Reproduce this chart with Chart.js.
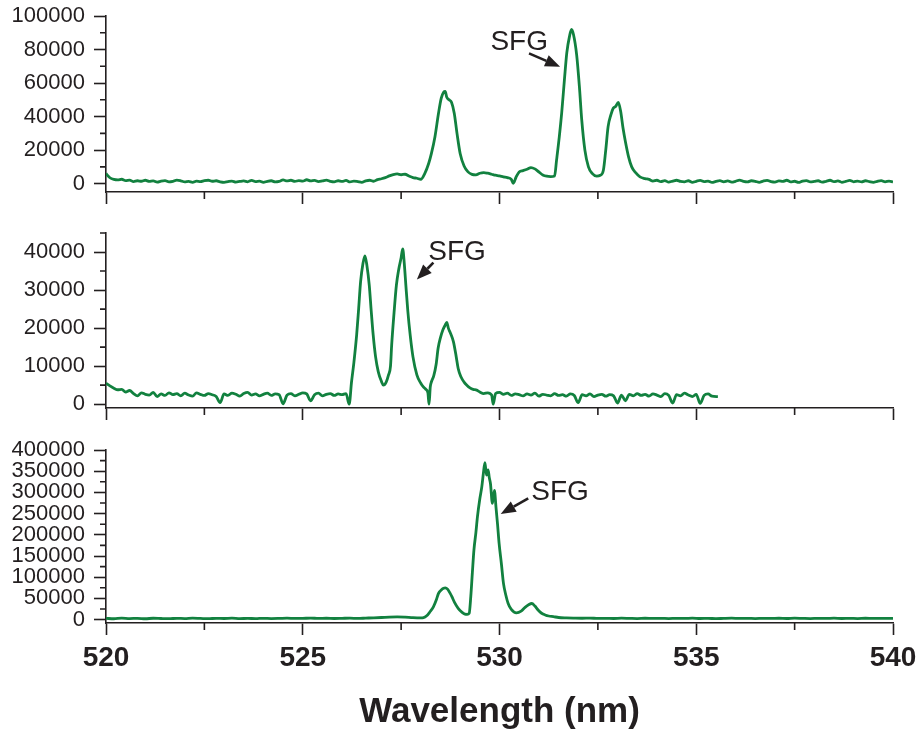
<!DOCTYPE html>
<html>
<head>
<meta charset="utf-8">
<script src="https://cdn.jsdelivr.net/npm/chart.js@4.4.1/dist/chart.umd.min.js"></script>
<style>
    body { margin: 0; background: #fff; }
    #wrap { position: relative; width: 918px; height: 733px; }
    #wrap canvas { position: absolute; left: 0; top: 0; }
</style>
</head>
<body>
<div id="wrap">
    <canvas id="topChart" width="918" height="733"></canvas>
    <canvas id="midChart" width="918" height="733"></canvas>
    <canvas id="botChart" width="918" height="733"></canvas>
</div>
<script>
// top spectrum (counts vs wavelength in nm)
const topWl = [
    520.0, 520.1, 520.2, 520.3, 520.4, 520.5, 520.6, 520.7, 520.8, 520.9,
    521.0, 521.1, 521.2, 521.3, 521.4, 521.5, 521.6, 521.7, 521.8, 521.9,
    522.0, 522.1, 522.2, 522.3, 522.4, 522.5, 522.6, 522.7, 522.8, 522.9,
    523.0, 523.1, 523.2, 523.3, 523.4, 523.5, 523.6, 523.7, 523.8, 523.9,
    524.0, 524.1, 524.2, 524.3, 524.4, 524.5, 524.6, 524.7, 524.8, 524.9,
    525.0, 525.1, 525.2, 525.3, 525.4, 525.5, 525.6, 525.7, 525.8, 525.9,
    526.0, 526.1, 526.2, 526.3, 526.4, 526.5, 526.6, 526.7, 526.8, 526.9,
    527.0, 527.1, 527.2, 527.3, 527.4, 527.5, 527.6, 527.7, 527.8, 527.9,
    528.0, 528.1, 528.2, 528.27, 528.36, 528.45, 528.52, 528.58, 528.62, 528.66,
    528.72, 528.78, 528.85, 528.92, 529.0, 529.1, 529.2, 529.3, 529.4, 529.5,
    529.6, 529.7, 529.8, 529.9, 530.0, 530.1, 530.2, 530.3, 530.35, 530.42,
    530.5, 530.6, 530.7, 530.8, 530.9, 531.0, 531.1, 531.2, 531.3, 531.4,
    531.45, 531.52, 531.58, 531.65, 531.71, 531.78, 531.83, 531.88, 531.96, 532.03,
    532.09, 532.17, 532.26, 532.36, 532.47, 532.56, 532.64, 532.7, 532.76, 532.83,
    532.89, 532.95, 533.02, 533.08, 533.14, 533.2, 533.28, 533.36, 533.46, 533.57,
    533.7, 533.8, 533.9, 534.0, 534.1, 534.2, 534.3, 534.4, 534.5, 534.6,
    534.7, 534.8, 534.9, 535.0, 535.1, 535.2, 535.3, 535.4, 535.5, 535.6,
    535.7, 535.8, 535.9, 536.0, 536.1, 536.2, 536.3, 536.4, 536.5, 536.6,
    536.7, 536.8, 536.9, 537.0, 537.1, 537.2, 537.3, 537.4, 537.5, 537.6,
    537.7, 537.8, 537.9, 538.0, 538.1, 538.2, 538.3, 538.4, 538.5, 538.6,
    538.7, 538.8, 538.9, 539.0, 539.1, 539.2, 539.3, 539.4, 539.5, 539.6,
    539.7, 539.8, 539.9, 540.0
]
const topCounts = [
    6000, 3500, 2500, 2200, 2600, 1800, 2100, 1200, 1700, 1400,
    2000, 1300, 1600, 900, 1500, 1800, 1100, 1400, 2100, 1700,
    1000, 1300, 800, 1500, 1200, 1800, 2000, 1400, 1700, 1100,
    800, 1200, 1500, 900, 1300, 1600, 1100, 1900, 1200, 1500,
    800, 1400, 1700, 1000, 1300, 2200, 1600, 2000, 1300, 1800,
    1500, 2300, 1600, 1900, 1200, 1600, 2100, 1400, 1100, 1700,
    1300, 1900, 1000, 1500, 1200, 800, 1600, 2000, 1400, 2400,
    2900, 3600, 4600, 5400, 5800, 5300, 5600, 4500, 3600, 3200,
    2600, 6000, 12000, 18000, 28000, 42000, 51000, 54500, 55000, 51500,
    50000, 48500, 42000, 30000, 18000, 10500, 7000, 5500, 5200, 6200,
    6600, 6200, 5600, 5000, 4600, 4000, 3600, 2600, 200, 3800,
    7000, 7800, 8600, 9600, 8800, 7000, 5200, 4400, 4200, 4600,
    14000, 28000, 42000, 62000, 78000, 88000, 92000, 89000, 77000, 58000,
    38000, 20000, 10000, 6000, 4500, 5000, 8000, 20000, 34000, 41000,
    45000, 46000, 48500, 43000, 33000, 25000, 16000, 10000, 6500, 4000,
    3000, 2500, 1500, 2000, 1200, 1800, 900, 1500, 2000, 1300,
    1100, 1700, 800, 1400, 1900, 1200, 1500, 700, 1300, 1800,
    1100, 1600, 900, 1400, 2100, 1300, 1000, 1700, 1400, 800,
    1500, 1900, 1200, 900, 1600, 1300, 2000, 1100, 1400, 700,
    1500, 1800, 1000, 1300, 1700, 900, 1400, 2000, 1200, 1600,
    800, 1300, 1900, 1100, 1500, 1000, 1700, 1200, 800, 1400,
    1800, 1100, 1500, 1000
]

// middle spectrum
const midWl = [
    520.0, 520.1, 520.2, 520.3, 520.4, 520.5, 520.6, 520.7, 520.8, 520.9,
    521.0, 521.1, 521.2, 521.3, 521.4, 521.5, 521.6, 521.7, 521.8, 521.9,
    522.0, 522.1, 522.2, 522.3, 522.4, 522.5, 522.6, 522.7, 522.8, 522.9,
    523.0, 523.1, 523.2, 523.3, 523.4, 523.5, 523.6, 523.7, 523.8, 523.9,
    524.0, 524.1, 524.2, 524.3, 524.4, 524.5, 524.6, 524.7, 524.8, 524.9,
    525.0, 525.1, 525.2, 525.3, 525.4, 525.5, 525.6, 525.7, 525.8, 525.9,
    526.0, 526.1, 526.18, 526.24, 526.3, 526.37, 526.42, 526.47, 526.53, 526.58,
    526.63, 526.69, 526.74, 526.79, 526.85, 526.92, 527.0, 527.05, 527.12, 527.18,
    527.23, 527.26, 527.32, 527.38, 527.44, 527.5, 527.54, 527.58, 527.62, 527.67,
    527.73, 527.8, 527.9, 528.0, 528.06, 528.12, 528.18, 528.21, 528.24, 528.27,
    528.33, 528.39, 528.44, 528.5, 528.56, 528.62, 528.66, 528.7, 528.76, 528.83,
    528.9, 528.95, 529.02, 529.1, 529.17, 529.25, 529.33, 529.42, 529.5, 529.6,
    529.7, 529.8, 529.84, 529.9, 530.0, 530.1, 530.2, 530.3, 530.4, 530.5,
    530.6, 530.7, 530.8, 530.9, 531.0, 531.1, 531.2, 531.3, 531.4, 531.5,
    531.6, 531.7, 531.8, 531.9, 532.0, 532.1, 532.2, 532.3, 532.4, 532.5,
    532.6, 532.7, 532.8, 532.9, 533.0, 533.1, 533.2, 533.3, 533.4, 533.5,
    533.6, 533.7, 533.8, 533.9, 534.0, 534.1, 534.2, 534.3, 534.4, 534.5,
    534.6, 534.7, 534.8, 534.9, 535.0, 535.1, 535.2, 535.3, 535.4, 535.55
]
const midCounts = [
    5500, 4800, 4200, 3800, 3900, 3200, 3600, 2800, 2200, 3000,
    2600, 2400, 3100, 2000, 2700, 2300, 3000, 2500, 2800, 2200,
    2900, 2400, 2100, 3000, 2600, 2300, 2800, 2500, 2000, 400,
    2700, 2300, 2900, 2600, 2100, 2800, 3100, 2400, 2700, 2200,
    2600, 2900, 2300, 2700, 2500, 100, 2400, 2800, 2200, 2600,
    3000, 2700, 900, 2500, 2900, 2200, 2600, 2800, 2300, 2700,
    2500, 2800, 0, 5900, 11000, 18200, 25000, 32200, 37000, 39000,
    36500, 31300, 24500, 18200, 12500, 8500, 6000, 5000, 5800, 7700,
    10000, 15600, 24000, 31300, 35500, 38500, 40800, 37000, 31300, 24500,
    18200, 12500, 7700, 5500, 4600, 4000, 3000, 0, 4500, 5900,
    7500, 10500, 14700, 17500, 19500, 20800, 21500, 20000, 18500, 16400,
    12500, 9400, 7200, 5800, 5000, 4300, 3900, 3700, 3200, 2800,
    3000, 2400, 0, 2800, 3100, 2600, 2900, 2300, 2700, 2500,
    2200, 2700, 2400, 2900, 2100, 2600, 2400, 2200, 2800, 2300,
    2500, 2100, 2700, 2300, 400, 2500, 2200, 2700, 2000, 2400,
    2600, 2100, 2500, 2200, 300, 2400, 900, 2600, 2200, 2800,
    2300, 2600, 2100, 2700, 2400, 2000, 2800, 2300, 300, 2500,
    2200, 2900, 2400, 2000, 2600, 200, 2300, 2700, 2100, 2000
]

// bottom spectrum
const botWl = [
    520.0, 520.2, 520.4, 520.6, 520.8, 521.0, 521.2, 521.4, 521.6, 521.8,
    522.0, 522.2, 522.4, 522.6, 522.8, 523.0, 523.2, 523.4, 523.6, 523.8,
    524.0, 524.2, 524.4, 524.6, 524.8, 525.0, 525.2, 525.4, 525.6, 525.8,
    526.0, 526.2, 526.4, 526.6, 526.8, 527.0, 527.2, 527.4, 527.6, 527.8,
    528.0, 528.07, 528.15, 528.23, 528.32, 528.4, 528.45, 528.52, 528.58, 528.62,
    528.68, 528.74, 528.79, 528.86, 528.95, 529.05, 529.12, 529.18, 529.23, 529.27,
    529.31, 529.35, 529.4, 529.44, 529.5, 529.55, 529.59, 529.63, 529.67, 529.71,
    529.74, 529.77, 529.82, 529.87, 529.91, 529.95, 529.99, 530.05, 530.1, 530.16,
    530.22, 530.3, 530.43, 530.55, 530.65, 530.74, 530.82, 530.9, 530.98, 531.07,
    531.16, 531.25, 531.37, 531.5, 531.7, 531.9, 532.1, 532.3, 532.5, 532.7,
    532.9, 533.1, 533.3, 533.5, 533.7, 533.9, 534.1, 534.3, 534.5, 534.7,
    534.9, 535.1, 535.3, 535.5, 535.7, 535.9, 536.1, 536.3, 536.5, 536.7,
    536.9, 537.1, 537.3, 537.5, 537.7, 537.9, 538.1, 538.3, 538.5, 538.7,
    538.9, 539.1, 539.3, 539.5, 539.7, 539.9, 540.0
]
const botCounts = [
    3000, 2000, 3500, 2500, 3000, 2000, 3200, 2600, 2200, 3000,
    2500, 3400, 2800, 2200, 3000, 2600, 3300, 2400, 2900, 2300,
    3100, 2500, 2800, 3300, 2700, 2900, 3600, 2800, 3200, 2600,
    3000, 3400, 2800, 3500, 4200, 5000, 6000, 6500, 5800, 4500,
    4000, 4500, 9000, 18000, 30000, 48000, 62000, 70000, 74000, 75000,
    72000, 63000, 54000, 40000, 26600, 17000, 13000, 12500, 15000, 54000,
    110000, 164000, 205000, 243000, 285000, 313000, 345000, 370000, 341000, 353000,
    335000, 321000, 274000, 305000, 266000, 225000, 180000, 130000, 86000, 58000,
    38000, 24000, 16000, 20000, 29000, 35000, 38000, 32000, 22600, 15000,
    11000, 8500, 7000, 5000, 4000, 3500, 3200, 3600, 2800, 3100,
    2600, 3300, 2900, 2500, 3200, 2700, 3000, 2400, 3100, 2800,
    3400, 2600, 3000, 2300, 2900, 3300, 2700, 3100, 2500, 3000,
    2800, 3200, 2600, 3400, 2900, 2500, 3100, 2700, 3300, 2600,
    3000, 2500, 3200, 2800, 3100, 2700, 3000
]

// axis ticks
const xTicks = [520, 525, 530, 535, 540]
const xMinor = [522.5, 527.5, 532.5, 537.5]
const topYTicks = [0, 20000, 40000, 60000, 80000, 100000]
const topYMinor = [10000, 30000, 50000, 70000, 90000]
const midYTicks = [0, 10000, 20000, 30000, 40000]
const midYMinor = [5000, 15000, 25000, 35000, 45000]
const botYTicks = [0, 50000, 100000, 150000, 200000, 250000, 300000, 350000, 400000]
const botYMinor = [25000, 75000, 125000, 175000, 225000, 275000, 325000, 375000]

const ink = '#231f20'
const green = '#12813f'
const fontFam = '"Liberation Sans", Arial, sans-serif'

// short minor ticks + the SFG label with its arrow
const extras = {
    id: 'extras',
    afterDraw(chart, args, opts) {
        const ctx = chart.ctx
        const xs = chart.scales.x
        const ys = chart.scales.y
        const area = chart.chartArea
        ctx.save()
        ctx.strokeStyle = ink
        ctx.lineWidth = 1.6
        ctx.beginPath()
        opts.xMinor.forEach(v => {
            const px = xs.getPixelForValue(v)
            ctx.moveTo(px, area.bottom)
            ctx.lineTo(px, area.bottom + 7)
        })
        opts.yMinor.forEach(v => {
            const py = ys.getPixelForValue(v)
            ctx.moveTo(area.left, py)
            ctx.lineTo(area.left - 6, py)
        })
        ctx.stroke()

        // label
        ctx.fillStyle = ink
        ctx.font = '28px ' + fontFam
        ctx.textAlign = 'center'
        ctx.textBaseline = 'alphabetic'
        ctx.fillText('SFG', xs.getPixelForValue(opts.label[0]), ys.getPixelForValue(opts.label[1]))

        // arrow
        const x1 = xs.getPixelForValue(opts.from[0]), y1 = ys.getPixelForValue(opts.from[1])
        const x2 = xs.getPixelForValue(opts.to[0]), y2 = ys.getPixelForValue(opts.to[1])
        const ang = Math.atan2(y2 - y1, x2 - x1)
        const headLen = 15, headW = 6
        const bx = x2 - headLen * Math.cos(ang), by = y2 - headLen * Math.sin(ang)
        ctx.lineWidth = 2.6
        ctx.beginPath()
        ctx.moveTo(x1, y1)
        ctx.lineTo(bx, by)
        ctx.stroke()
        ctx.beginPath()
        ctx.moveTo(x2, y2)
        ctx.lineTo(bx + headW * Math.sin(ang), by - headW * Math.cos(ang))
        ctx.lineTo(bx - headW * Math.sin(ang), by + headW * Math.cos(ang))
        ctx.closePath()
        ctx.fill()
        ctx.restore()
    }
}

function panelChart(canvasId, wl, counts, cfg) {
    const points = wl.map((x, i) => ({ x: x, y: counts[i] }))
    return new Chart(document.getElementById(canvasId), {
        type: 'line',
        data: {
            datasets: [{
                data: points,
                borderColor: green,
                borderWidth: 2.8,
                pointRadius: 0,
                cubicInterpolationMode: 'monotone',
                fill: false
            }]
        },
        options: {
            responsive: false,
            animation: false,
            events: [],
            layout: { padding: { left: 0, right: 25, top: cfg.top, bottom: cfg.bottom } },
            plugins: {
                legend: { display: false },
                tooltip: { enabled: false },
                extras: { xMinor: xMinor, yMinor: cfg.yMinor, label: cfg.label, from: cfg.from, to: cfg.to }
            },
            scales: {
                x: {
                    type: 'linear',
                    min: 520,
                    max: 540,
                    afterBuildTicks: s => { s.ticks = xTicks.map(v => ({ value: v })) },
                    afterFit: s => {
                        s.height = cfg.xHeight
                        s.paddingLeft = 0
                        s.paddingRight = 0
                    },
                    grid: { drawOnChartArea: false, tickLength: 12, tickWidth: 1.6, tickColor: ink },
                    border: { color: ink, width: 1.6 },
                    ticks: {
                        display: cfg.xLabels,
                        autoSkip: false,
                        padding: 6,
                        maxRotation: 0,
                        color: ink,
                        font: { family: fontFam, size: 28, weight: 'bold' },
                        callback: v => String(v)
                    },
                    title: {
                        display: cfg.xLabels,
                        text: 'Wavelength (nm)',
                        color: ink,
                        font: { family: fontFam, size: 35, weight: 'bold' },
                        padding: { top: 0, bottom: 0 }
                    }
                },
                y: {
                    type: 'linear',
                    min: cfg.yMin,
                    max: cfg.yMax,
                    afterBuildTicks: s => { s.ticks = cfg.yTicks.map(v => ({ value: v })) },
                    afterFit: s => {
                        s.width = 106
                        s.paddingTop = 0
                        s.paddingBottom = 0
                    },
                    grid: { drawOnChartArea: false, tickLength: 12, tickWidth: 1.6, tickColor: ink },
                    border: { color: ink, width: 1.6 },
                    ticks: {
                        autoSkip: false,
                        padding: 9,
                        color: ink,
                        font: { family: fontFam, size: 22, lineHeight: 1 },
                        callback: v => String(v)
                    }
                }
            }
        },
        plugins: [extras]
    })
}

panelChart('topChart', topWl, topCounts, {
    top: 16, bottom: 521, xHeight: 20, xLabels: false,
    yMin: -5000, yMax: 100000, yTicks: topYTicks, yMinor: topYMinor,
    label: [530.5, 80000], from: [530.75, 77700], to: [531.54, 69700]
})

panelChart('midChart', midWl, midCounts, {
    top: 233, bottom: 305, xHeight: 20, xLabels: false,
    yMin: -1000, yMax: 45000, yTicks: midYTicks, yMinor: midYMinor,
    label: [528.92, 38000], from: [528.32, 37200], to: [527.9, 32800]
})

panelChart('botChart', botWl, botCounts, {
    top: 450, bottom: 0, xHeight: 110, xLabels: true,
    yMin: -8000, yMax: 400000, yTicks: botYTicks, yMinor: botYMinor,
    label: [531.54, 283000], from: [530.73, 286000], to: [530.03, 249000]
})
</script>
</body>
</html>
